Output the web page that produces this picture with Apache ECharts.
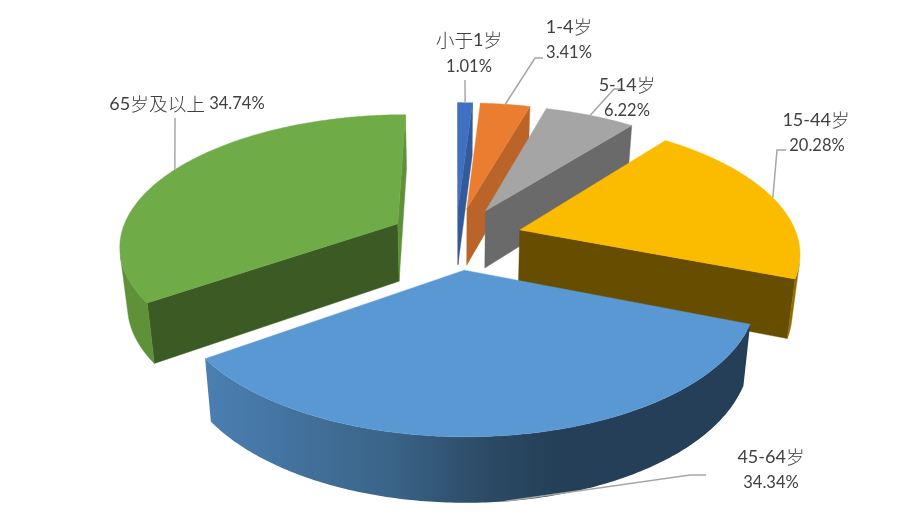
<!DOCTYPE html>
<html>
<head>
<meta charset="utf-8">
<style>html,body{margin:0;padding:0;background:#fff}#c{width:902px;height:530px}</style>
<script src="https://cdn.jsdelivr.net/npm/echarts@6/dist/echarts.min.js"></script>
</head>
<body>
<div id="c"></div>
<script>
var categories = ['小于1岁', '1-4岁', '5-14岁', '15-44岁', '45-64岁', '65岁及以上'];
var shares = [1.01, 3.41, 6.22, 20.28, 34.34, 34.74];

var topColors = ['#3F70C2', '#EB7D31', '#A5A5A5', '#FBBC00', '#5998D3', '#6FAB46'];
var startWall = ['#335A9A', '#BB642A', '#6A6A6A', '#664D00', '#243F57', '#3B5A24'];
var endWall = ['#335A9A', '#BB642A', '#6A6A6A', '#664D00', '#243F57', '#5F9139'];
var outerWall = ['#335A9A', '#BB642A', '#6A6A6A', '#8F6C00', {
  type: 'linear', x: 0, y: 0, x2: 1, y2: 0,
  colorStops: [
    { offset: 0, color: '#4B7FB2' }, { offset: 0.34, color: '#3A6488' },
    { offset: 0.52, color: '#2C4A65' }, { offset: 0.65, color: '#243F57' },
    { offset: 1, color: '#243F57' }
  ]
}, '#5F9139'];

// label layout: [name x, name y, value x, value y] and leader elbows
var labelPos = [[469, 40, 469, 67], [569, 27, 569, 53], [627, 85, 627, 111],
                [816, 120, 817, 146], [771, 457, 771, 483], [187, 104, 187, 104]];
var leaderEnds = [[[465, 80]], [[535, 58], [543, 58]], [[614, 89], [623, 89]],
                  [[777, 150], [786, 150]], [[690, 475], [706, 475]], [[175, 118]]];

// projection of the tilted pie
var CX = 456, CY = 238, RX = 278, RY = 130, PERSP = 0.1537, EXPLODE = 0.24;
var DEPTH = 58, DEPTH_GROW = 0.04, BOTTOM_SHRINK = 0.977;

function rad(d) { return d * Math.PI / 180; }
function project(u, v) {
  var w = 1 / (1 - PERSP * v);
  return [CX + RX * u * w, CY + RY * v * w];
}
function drop(p) {
  return [CX + (p[0] - CX) * BOTTOM_SHRINK, p[1] + DEPTH + DEPTH_GROW * (p[1] - CY)];
}
function cross(a, b, c) {
  return (b[0] - a[0]) * (c[1] - a[1]) - (b[1] - a[1]) * (c[0] - a[0]);
}
var total = shares.reduce(function (a, b) { return a + b; }, 0);

function renderSlice(params, api) {
  var i = params.dataIndex;
  var before = 0;
  for (var k = 0; k < i; k++) before += shares[k];
  var a0 = before / total * 360;
  var a1 = (before + api.value(0)) / total * 360;
  var mid = (a0 + a1) / 2;
  var ox = Math.sin(rad(mid)) * EXPLODE, oy = -Math.cos(rad(mid)) * EXPLODE;
  var apex = project(ox, oy);
  function rim(t) { return project(ox + Math.sin(rad(t)), oy - Math.cos(rad(t))); }
  var children = [];
  function poly(points, fill, z) {
    children.push({ type: 'polygon', shape: { points: points }, z2: z, silent: true,
      style: { fill: fill, stroke: typeof fill === 'string' ? fill : null, lineWidth: 0.4 } });
  }
  var n = Math.max(4, Math.ceil((a1 - a0) / 0.75)), arc = [];
  for (var j = 0; j <= n; j++) arc.push(rim(a0 + (a1 - a0) * j / n));
  var s = arc[0], e = arc[n];
  if (cross(apex, s, drop(s)) < 0) poly([apex, s, drop(s), drop(apex)], startWall[i], 1);
  if (cross(apex, e, drop(e)) > 0) poly([apex, e, drop(e), drop(apex)], endWall[i], 1);
  // rim wall: keep only the part of the arc that faces the viewer
  var front = [];
  for (var m = 0; m < n; m++) {
    if (cross(arc[m], arc[m + 1], drop(arc[m])) < 0) {
      if (!front.length) front.push(arc[m]);
      front.push(arc[m + 1]);
    }
  }
  if (front.length > 1) poly(front.concat(front.slice().reverse().map(drop)), outerWall[i], 2);
  poly([apex].concat(arc), topColors[i], 3);

  // leader line
  var anchor = rim(mid);
  if (mid > 90 && mid < 270) anchor = drop(anchor);
  children.push({ type: 'polyline', z2: 4, silent: true,
    shape: { points: [anchor].concat(leaderEnds[i]) },
    style: { fill: null, stroke: '#A6A6A6', lineWidth: 1.5 } });

  // labels
  var pct = '{n|' + api.value(0).toFixed(2) + '%}';
  var pos = labelPos[i];
  if (pos[0] === pos[2] && pos[1] === pos[3]) {
    addText(richName(categories[i]) + '{n| }' + pct, pos[0], pos[1]);
  } else {
    addText(richName(categories[i]), pos[0], pos[1]);
    addText(pct, pos[2], pos[3]);
  }
  function addText(str, x, y) {
    children.push({ type: 'text', z2: 5, silent: true, style: {
      x: x, y: y, text: str, align: 'center', verticalAlign: 'middle', rich: richStyles
    } });
  }
  return { type: 'group', children: children };
}
var richStyles = {
  c: { fontFamily: '"Noto Sans CJK SC"', fontWeight: 300, fontSize: 18.7, fill: '#404040', color: '#404040' },
  d: { fontFamily: 'Lato', fontSize: 18, fill: '#404040', color: '#404040' },
  n: { fontFamily: 'Lato', fontSize: 16.5, fill: '#404040', color: '#404040' }
};
function richName(str) {
  return str.replace(/[\u4e00-\u9fff]+|[^\u4e00-\u9fff]+/g, function (m) {
    return (/[\u4e00-\u9fff]/.test(m) ? '{c|' : '{d|') + m + '}';
  });
}

var chart = echarts.init(document.getElementById('c'), null, { renderer: 'canvas' });
chart.setOption({
  animation: false,
  backgroundColor: '#ffffff',
  series: [{
    type: 'custom',
    coordinateSystem: 'none',
    renderItem: renderSlice,
    data: shares.map(function (v, i) { return { name: categories[i], value: [v] }; })
  }]
});
</script>
</body>
</html>
